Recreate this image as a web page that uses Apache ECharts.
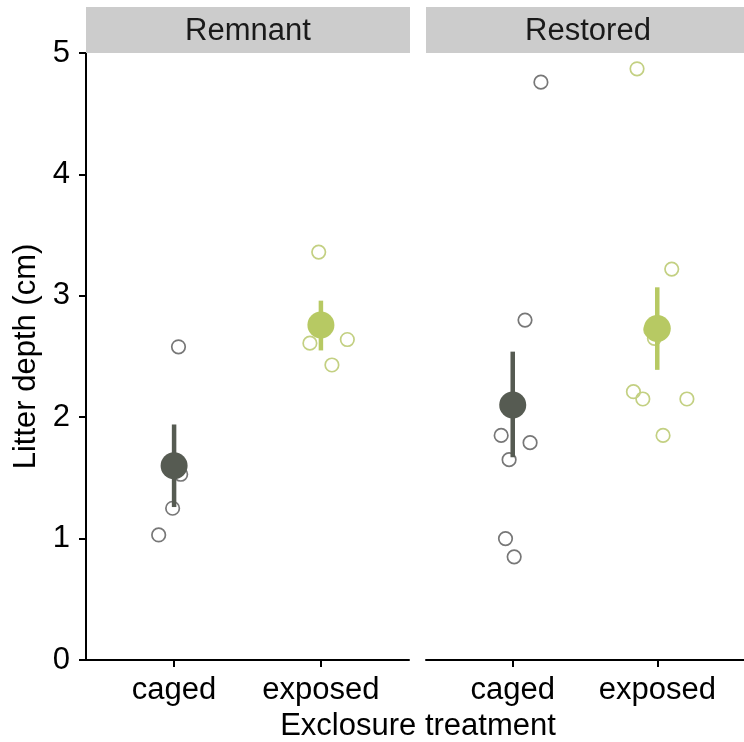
<!DOCTYPE html>
<html>
<head>
<meta charset="utf-8">
<script src="https://cdn.jsdelivr.net/npm/echarts@6/dist/echarts.min.js"></script>
<style>html,body{margin:0;padding:0;background:#fff}#c{width:744px;height:742px}</style>
</head>
<body>
<div id="c"></div>
<script>
// ---- data ----
var categories = ['caged', 'exposed'];
var sites = ['Remnant', 'Restored'];
var yTicks = [0, 1, 2, 3, 4, 5];

var remnantCagedValues   = [2.58, 1.53, 1.25, 1.03];
var remnantCagedJitter   = [0.03, 0.045, -0.01, -0.105];
var remnantExposedValues = [3.36, 2.61, 2.64, 2.43];
var remnantExposedJitter = [-0.015, -0.075, 0.18, 0.075];

var restoredCagedValues   = [4.76, 2.80, 1.85, 1.79, 1.65, 1.00, 0.85];
var restoredCagedJitter   = [0.195, 0.085, -0.08, 0.12, -0.025, -0.05, 0.01];
var restoredExposedValues = [4.87, 3.22, 2.72, 2.65, 2.21, 2.15, 2.15, 1.85];
var restoredExposedJitter = [-0.14, 0.10, -0.045, -0.02, -0.165, -0.10, 0.205, 0.04];

var remnantMeans  = [1.60, 2.76];
var remnantLower  = [1.26, 2.55];
var remnantUpper  = [1.94, 2.96];
var restoredMeans = [2.10, 2.73];
var restoredLower = [1.67, 2.39];
var restoredUpper = [2.54, 3.07];

// ---- styles ----
var FONT = 'Liberation Sans, Arial, Helvetica, sans-serif';
var FS = 31;
var darkCol = '#565b52';
var greenCol = '#b7c963';
var openCaged = '#777777';
var openExposed = '#c3d082';

function raw(values, jitter, pos) {
  return values.map(function (v, i) { return [pos + jitter[i], v]; });
}
function meanData(means) {
  return means.map(function (m, i) { return [i + 1, m]; });
}
function errData(lower, upper) {
  return lower.map(function (l, i) { return [i + 1, l, upper[i]]; });
}

var grids = [
  { left: 86, top: 53, width: 323, height: 607, containLabel: false },
  { left: 426, top: 53, width: 323, height: 607, containLabel: false }
];

function xAxisDef(gi) {
  return {
    type: 'value', gridIndex: gi, min: 0.4, max: 2.6,
    axisLine: { show: true, lineStyle: { color: '#000', width: 2 } },
    axisTick: { show: true, customValues: [1, 2], length: 7, lineStyle: { color: '#000', width: 2 } },
    axisLabel: {
      show: true, customValues: [1, 2], margin: 15,
      fontFamily: FONT, fontSize: FS, color: '#000',
      formatter: function (v) { return categories[Math.round(v) - 1] || ''; }
    },
    splitLine: { show: false }
  };
}

var yAxes = [
  {
    type: 'value', gridIndex: 0, min: 0, max: 5, interval: 1,
    name: 'Litter depth (cm)', nameLocation: 'middle', nameGap: 44,
    nameTextStyle: { fontFamily: FONT, fontSize: FS, color: '#000' },
    axisLine: { show: true, lineStyle: { color: '#000', width: 2 } },
    axisTick: { show: true, length: 7, lineStyle: { color: '#000', width: 2 } },
    axisLabel: {
      margin: 16, fontFamily: FONT, fontSize: FS, color: '#000',
      customValues: yTicks
    },
    splitLine: { show: false }
  },
  {
    type: 'value', gridIndex: 1, min: 0, max: 5, interval: 1,
    axisLine: { show: false }, axisTick: { show: false }, axisLabel: { show: false },
    splitLine: { show: false }
  }
];

function openSeries(gi, data, col) {
  return {
    type: 'scatter', xAxisIndex: gi, yAxisIndex: gi, data: data,
    symbol: 'circle', symbolSize: 13.5, silent: true, z: 2,
    itemStyle: { color: 'rgba(255,255,255,0)', borderColor: col, borderWidth: 1.7, opacity: 1 }
  };
}
function errSeries(gi, data) {
  return {
    type: 'custom', xAxisIndex: gi, yAxisIndex: gi, data: data, z: 3, silent: true,
    renderItem: function (params, api) {
      var x = api.value(0);
      var p1 = api.coord([x, api.value(1)]);
      var p2 = api.coord([x, api.value(2)]);
      var col = x < 1.5 ? darkCol : greenCol;
      return {
        type: 'line',
        shape: { x1: p1[0], y1: p1[1], x2: p2[0], y2: p2[1] },
        style: { stroke: col, lineWidth: 4.5 }
      };
    }
  };
}
function meanSeries(gi, data) {
  return {
    type: 'scatter', xAxisIndex: gi, yAxisIndex: gi, data: data,
    symbol: 'circle', symbolSize: 27, z: 4, silent: true,
    itemStyle: {
      opacity: 1,
      color: function (p) { return p.dataIndex === 0 ? darkCol : greenCol; }
    }
  };
}

var series = [
  openSeries(0, raw(remnantCagedValues, remnantCagedJitter, 1), openCaged),
  openSeries(0, raw(remnantExposedValues, remnantExposedJitter, 2), openExposed),
  openSeries(1, raw(restoredCagedValues, restoredCagedJitter, 1), openCaged),
  openSeries(1, raw(restoredExposedValues, restoredExposedJitter, 2), openExposed),
  errSeries(0, errData(remnantLower, remnantUpper)),
  errSeries(1, errData(restoredLower, restoredUpper)),
  meanSeries(0, meanData(remnantMeans)),
  meanSeries(1, meanData(restoredMeans))
];

var chart = echarts.init(document.getElementById('c'), null, { renderer: 'canvas' });
chart.setOption({
  animation: false,
  backgroundColor: '#fff',
  grid: grids,
  xAxis: [xAxisDef(0), xAxisDef(1)],
  yAxis: yAxes,
  series: series,
  graphic: [
    { type: 'rect', shape: { x: 86, y: 7, width: 324, height: 46 }, style: { fill: '#cccccc' }, z: 10 },
    { type: 'rect', shape: { x: 426, y: 7, width: 330, height: 46 }, style: { fill: '#cccccc' }, z: 10 },
    { type: 'text', x: 248, y: 31, z: 11,
      style: { text: sites[0], font: FS + 'px ' + FONT, fill: '#1a1a1a', textAlign: 'center', textVerticalAlign: 'middle' } },
    { type: 'text', x: 588, y: 31, z: 11,
      style: { text: sites[1], font: FS + 'px ' + FONT, fill: '#1a1a1a', textAlign: 'center', textVerticalAlign: 'middle' } },
    { type: 'text', x: 418, y: 726, z: 11,
      style: { text: 'Exclosure treatment', font: FS + 'px ' + FONT, fill: '#000', textAlign: 'center', textVerticalAlign: 'middle' } }
  ]
});
</script>
</body>
</html>
